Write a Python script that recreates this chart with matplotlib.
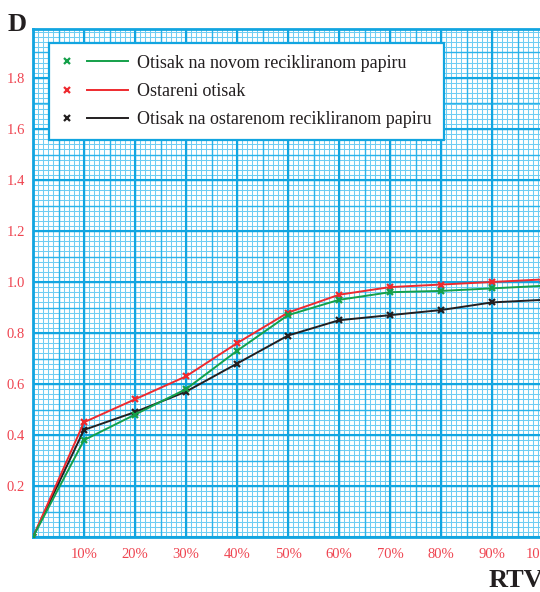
import numpy as np
import matplotlib
matplotlib.use("Agg")
import matplotlib.pyplot as plt
from matplotlib.lines import Line2D
from matplotlib.legend_handler import HandlerBase

# ---- data ----
rtv = [0, 10, 20, 30, 40, 50, 60, 70, 80, 90, 100]
novi = [0, 0.38, 0.48, 0.58, 0.73, 0.87, 0.93, 0.96, 0.965, 0.975, 0.985]
ostareni = [0, 0.45, 0.54, 0.63, 0.76, 0.88, 0.95, 0.98, 0.99, 1.0, 1.01]
ostareni_rec = [0, 0.42, 0.49, 0.57, 0.68, 0.79, 0.85, 0.87, 0.89, 0.92, 0.93]
labels = ["Otisak na novom recikliranom papiru", "Ostareni otisak",
          "Otisak na ostarenom recikliranom papiru"]
xtick_vals = [10, 20, 30, 40, 50, 60, 70, 80, 90, 100]
xtick_labels = ["10%", "20%", "30%", "40%", "50%", "60%", "70%", "80%", "90%", "100%"]
ytick_vals = [0.2, 0.4, 0.6, 0.8, 1.0, 1.2, 1.4, 1.6, 1.8]
ytick_labels = ["0.2", "0.4", "0.6", "0.8", "1.0", "1.2", "1.4", "1.6", "1.8"]

plt.rcParams['font.family'] = ['Liberation Serif', 'DejaVu Serif']

W, H = 540, 592
fig = plt.figure(figsize=(W / 100, H / 100), dpi=100)
ax = fig.add_axes([33 / W, 55 / H, 510 / W, 508 / H])
ymax = 508 / 255
ax.set_xlim(0, 100)
ax.set_ylim(0, ymax)

fine_c = '#6fcdf3'
mid_c = '#2ab3ea'
maj_c = '#12a5e0'

# graph-paper grid
xf = np.arange(0, 101, 1)
ax.vlines(xf, 0, ymax, colors=fine_c, lw=0.75, zorder=0)
ax.vlines(np.arange(0, 101, 5), 0, ymax, colors=mid_c, lw=1.0, zorder=0.1)
ax.vlines(np.arange(0, 101, 10), 0, ymax, colors=maj_c, lw=1.5, zorder=0.2)
yf = np.arange(0, ymax + 1e-9, 0.02)
ax.hlines(yf, 0, 100, colors=fine_c, lw=0.75, zorder=0)
ax.hlines(np.arange(0, ymax + 1e-9, 0.1), 0, 100, colors=mid_c, lw=1.0, zorder=0.1)
ax.hlines(np.arange(0, ymax + 1e-9, 0.2), 0, 100, colors=maj_c, lw=1.5, zorder=0.2)

for s in ax.spines.values():
    s.set_color(maj_c)
    s.set_linewidth(2.0)

green = '#14a04a'
red = '#ee2a2f'
black = '#231f20'

ax.plot(rtv, ostareni_rec, color=black, lw=1.4, marker='x', ms=4, mew=1.6, zorder=3)
ax.plot(rtv, ostareni, color=red, lw=1.4, marker='x', ms=4, mew=1.6, zorder=3)
ax.plot(rtv, novi, color=green, lw=1.4, marker='x', ms=4, mew=1.6, zorder=3)

tick_c = '#ef4450'
ax.set_xticks(xtick_vals)
ax.set_xticklabels(xtick_labels, color=tick_c, fontsize=10.5)
ax.set_yticks(ytick_vals)
ax.set_yticklabels(ytick_labels, color=tick_c, fontsize=10.5)
ax.tick_params(length=0, pad=8)
ax.tick_params(axis='y', pad=6)


class MarkerThenLine(HandlerBase):
    def create_artists(self, legend, orig_handle, xdescent, ydescent, width,
                       height, fontsize, trans):
        c = orig_handle.get_color()
        y = height / 2 - ydescent
        m = Line2D([-xdescent + 0.10 * width], [y], marker='x', color=c,
                   ls='none', ms=5, mew=1.6, transform=trans)
        l = Line2D([-xdescent + 0.39 * width, -xdescent + width], [y, y],
                   color=c, lw=1.4, transform=trans)
        return [m, l]


handles = [Line2D([], [], color=green), Line2D([], [], color=red),
           Line2D([], [], color=black)]
leg = fig.legend(handles, labels, loc='upper left',
                 bbox_to_anchor=(49 / W, 1 - 43 / H), borderaxespad=0,
                 fontsize=13, frameon=True, fancybox=False,
                 handlelength=3.7, handletextpad=0.55, borderpad=0.65,
                 labelspacing=0.62,
                 handler_map={Line2D: MarkerThenLine()})
leg.get_frame().set_facecolor('white')
leg.get_frame().set_edgecolor(maj_c)
leg.get_frame().set_linewidth(1.6)
leg.get_frame().set_alpha(1)
for t in leg.get_texts():
    t.set_color('#231f20')

fig.text(8 / W, 1 - 31 / H, "D", fontsize=19, fontweight='bold',
         color='#231f20', ha='left', va='baseline')
fig.text(489 / W, 1 - 587 / H, "RTV", fontsize=19, fontweight='bold',
         color='#231f20', ha='left', va='baseline')

fig.savefig("out.png", dpi=100)
